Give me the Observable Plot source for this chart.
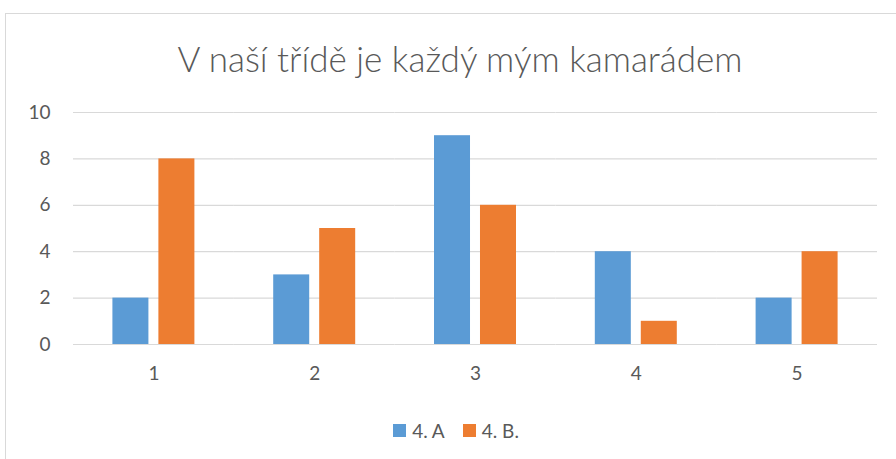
<!DOCTYPE html>
<html>
<head>
<meta charset="utf-8">
<script src="https://cdn.jsdelivr.net/npm/d3@7"></script>
<script src="https://cdn.jsdelivr.net/npm/@observablehq/plot@0.6"></script>
<style>
  html, body { margin: 0; padding: 0; background: #fff; }
  body { width: 896px; height: 459px; overflow: hidden; position: relative; font-family: Lato, "Open Sans", sans-serif; }
  #frame { position: absolute; left: 5px; top: 13px; width: 1000px; height: 1000px; border: 1px solid #d9d9d9; box-sizing: border-box; }
  #title { position: absolute; left: 12px; top: 0; width: 896px; height: 95px; text-align: center; color: #595959; font-size: 35px; font-weight: 300; line-height: 1; }
  #title span { position: absolute; left: 0; right: 0; top: 41px; }
  #chart { position: absolute; left: 0; top: 95px; }
  #legend { position: absolute; left: 8px; top: 394px; width: 896px; height: 65px; display: flex; justify-content: center; align-items: flex-start; padding-top: 25px; box-sizing: border-box; color: #595959; font-size: 19px; }
  .item { display: flex; align-items: center; margin: 0 9px; }
  .sw { width: 13px; height: 13px; margin-right: 6px; display: inline-block; }
</style>
</head>
<body>
<div id="frame"></div>
<div id="title"><span>V naší třídě je každý mým kamarádem</span></div>
<div id="chart"></div>
<div id="legend"></div>
<script>
const categories = ["1", "2", "3", "4", "5"];
const seriesNames = ["4. A", "4. B."];
const valuesA = [2, 3, 9, 4, 2];
const valuesB = [8, 5, 6, 1, 4];
const yTicks = [0, 2, 4, 6, 8, 10];
const colors = ["#5B9BD5", "#ED7D31"];

const data = [];
categories.forEach((c, i) => {
  data.push({category: c, series: seriesNames[0], value: valuesA[i]});
  data.push({category: c, series: seriesNames[1], value: valuesB[i]});
});

const chart = Plot.plot({
  width: 896,
  height: 299,
  marginTop: 17,
  marginBottom: 50,
  marginLeft: 73,
  marginRight: 19,
  style: {fontFamily: "Lato, 'Open Sans', sans-serif", color: "#595959", background: "transparent"},
  fx: {domain: categories, padding: 0, round: false, axis: null, label: null},
  x: {domain: seriesNames, axis: null, round: false, paddingInner: 0.217, paddingOuter: 0.857},
  y: {domain: [0, 10], axis: null, label: null},
  color: {domain: seriesNames, range: colors},
  marks: [
    Plot.ruleY(yTicks, {stroke: "#d9d9d9", strokeWidth: 1.2, strokeOpacity: 1}),
    Plot.barY(data, {fx: "category", x: "series", y: "value", fill: "series"}),
    Plot.axisY({ticks: yTicks, anchor: "left", tickSize: 0, tickPadding: 23, fontSize: 19, label: null}),
    Plot.axisFx({anchor: "bottom", tickSize: 0, tickPadding: 22, fontSize: 19, label: null})
  ]
});
document.getElementById("chart").appendChild(chart);

const legend = document.getElementById("legend");
seriesNames.forEach((s, i) => {
  const it = document.createElement("div");
  it.className = "item";
  const sw = document.createElement("span");
  sw.className = "sw";
  sw.style.background = colors[i];
  it.appendChild(sw);
  it.appendChild(document.createTextNode(s));
  legend.appendChild(it);
});
</script>
</body>
</html>
